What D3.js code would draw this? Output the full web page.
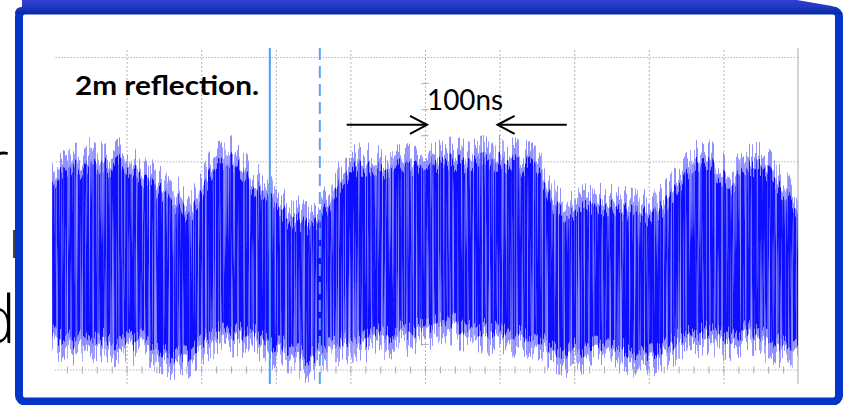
<!DOCTYPE html>
<html>
<head>
<meta charset="utf-8">
<script src="https://cdn.jsdelivr.net/npm/d3@7"></script>
<style>
  body { margin: 0; background: #fff; overflow: hidden; }
  svg { display: block; }
</style>
</head>
<body>
<div id="chart"></div>
<script>
// trace envelope read off the scope capture, one value every 10 ns
// (units: 100 per vertical division, 0 = bottom graticule line)
var sampleStep = 10;
var upperEnv = [187, 201, 196, 206, 203, 211, 204, 209, 203, 211,
  201, 206, 196, 194, 184, 182, 168, 173, 158, 165,
  177, 196, 206, 209, 213, 206, 196, 187, 184, 177,
  168, 163, 151, 155, 149, 153, 158, 168, 182, 194,
  201, 206, 203, 209, 201, 206, 203, 211, 206, 209,
  213, 211, 208, 213, 209, 211, 206, 211, 213, 206,
  213, 209, 211, 206, 209, 201, 192, 173, 163, 158,
  163, 165, 168, 171, 165, 168, 163, 165, 161, 163,
  158, 163, 168, 177, 187, 196, 206, 211, 213, 201,
  196, 187, 196, 203, 206, 206, 201, 192, 182, 173, 163];
var lowerEnv = [24, 19, 24, 14, 21, 17, 21, 19, 14, 17,
  21, 14, 19, 12, 10, 8, 2, 5, 2, 10,
  16, 21, 24, 29, 24, 26, 22, 24, 19, 14,
  12, 12, 8, 5, 0, 2, 7, 10, 12, 17,
  19, 21, 17, 22, 24, 21, 24, 27, 24, 29,
  27, 31, 34, 38, 34, 29, 31, 27, 29, 24,
  29, 26, 24, 21, 24, 19, 14, 10, 8, 5,
  10, 8, 10, 12, 8, 10, 12, 8, 5, 8,
  3, 8, 12, 14, 19, 21, 24, 24, 27, 24,
  19, 21, 24, 27, 26, 21, 19, 17, 12, 10, 8];
var timeNs = upperEnv.map((d, i) => i * sampleStep);

var gridTimes = [100, 200, 300, 400, 500, 600, 700, 800, 900];
var gridLevels = [100, 200, 300];
var cursorSolid = 292;
var cursorDashed = 359;
var spanStart = 500, spanEnd = 600;   // the 100ns marker
var arrowTails = [395, 690];
var arrowLevel = 235;
var titleText = "2m reflection.";
var spanText = "100ns";

var svgWidth = 847;
var svgHeight = 405;

var svg = d3.select("#chart")
  .append("svg")
  .attr("width", svgWidth)
  .attr("height", svgHeight);

var defs = svg.append("defs");

// --- slide remnants left of the frame
svg.append("text")
  .attr("x", 9).attr("y", 186)
  .attr("text-anchor", "end")
  .style("font-family", "'Open Sans', sans-serif")
  .style("font-weight", 300)
  .style("font-size", "64px")
  .text("r");
svg.append("text")
  .attr("x", 16).attr("y", 343)
  .attr("text-anchor", "end")
  .style("font-family", "'Open Sans', sans-serif")
  .style("font-weight", 300)
  .style("font-size", "66px")
  .text("d");
svg.append("rect")
  .attr("x", 13).attr("y", 230).attr("width", 2).attr("height", 28)
  .attr("fill", "#444");

// --- frame
svg.append("rect")
  .attr("x", 19).attr("y", 10.5)
  .attr("width", 820).attr("height", 391)
  .attr("rx", 6)
  .attr("fill", "#fff")
  .attr("stroke", "#0535c8")
  .attr("stroke-width", 8);

var barGrad = defs.append("linearGradient")
  .attr("id", "bar").attr("x1", 0).attr("y1", 0).attr("x2", 0).attr("y2", 1);
barGrad.append("stop").attr("offset", "0%").attr("stop-color", "#3242d2");
barGrad.append("stop").attr("offset", "50%").attr("stop-color", "#1f36c4");
barGrad.append("stop").attr("offset", "100%").attr("stop-color", "#0a2896");

svg.append("path")
  .attr("d", "M15,14 Q15,7 22,7 L22,0 L797,0 L832,6 L843,14 Z")
  .attr("fill", "url(#bar)");

// --- scales
var x = d3.scaleLinear().domain([0, 1000]).range([52, 798]);
var y = d3.scaleLinear().domain([0, 300]).range([370, 57]);

var plot = svg.append("g");

// vertical graticule
var gridTop = 48, gridBottom = 384;
plot.append("g")
  .attr("transform", `translate(0, ${gridBottom})`)
  .call(d3.axisBottom(x).tickValues(gridTimes).tickSize(-(gridBottom - gridTop)).tickFormat(""))
  .call(g => g.select(".domain").remove())
  .call(g => g.selectAll("line")
    .attr("stroke", "#b4b4b4")
    .attr("stroke-dasharray", "2,2"));

// horizontal graticule
plot.append("g")
  .attr("transform", `translate(${x(1000)}, 0)`)
  .call(d3.axisLeft(y).tickValues(gridLevels).tickSize(x(1000) - 55).tickFormat(""))
  .call(g => g.select(".domain").remove())
  .call(g => g.selectAll("line")
    .attr("stroke", "#b4b4b4")
    .attr("stroke-dasharray", "1.5,1.5"));

// bottom axis line with minor ticks
plot.append("line")
  .attr("x1", 55).attr("x2", x(1000))
  .attr("y1", y(0)).attr("y2", y(0))
  .attr("stroke", "#b4b4b4")
  .attr("stroke-dasharray", "1.5,1.5");
plot.append("g")
  .attr("transform", `translate(0, ${y(0) - 3.5})`)
  .call(d3.axisBottom(x).tickValues(d3.range(20, 1000, 20)).tickSizeInner(7).tickSizeOuter(0).tickFormat(""))
  .call(g => g.select(".domain").remove())
  .call(g => g.selectAll("line").attr("stroke", "#aaa"));

// centre axis minor ticks
plot.append("g")
  .attr("transform", `translate(${x(500) + 3.5}, 0)`)
  .call(d3.axisLeft(y).tickValues(d3.range(25, 300, 25)).tickSizeInner(7).tickSizeOuter(0).tickFormat(""))
  .call(g => g.select(".domain").remove())
  .call(g => g.selectAll("line").attr("stroke", "#aaa"));

// right edge
plot.append("line")
  .attr("x1", x(1000)).attr("x2", x(1000))
  .attr("y1", gridTop).attr("y2", gridBottom)
  .attr("stroke", "#b8b8b8")
  .attr("stroke-width", 1.2);

// --- trace: envelope area, roughened by a streak filter to look like a dense scope trace
function streakFilter(id, erode, scale, seed, lighten) {
  var f = defs.append("filter")
    .attr("id", id)
    .attr("filterUnits", "userSpaceOnUse")
    .attr("x", 45).attr("y", 30).attr("width", 760).attr("height", 360);
  f.append("feTurbulence")
    .attr("type", "fractalNoise")
    .attr("baseFrequency", "0.55 0.004")
    .attr("numOctaves", 2)
    .attr("seed", seed)
    .attr("result", "noise");
  f.append("feColorMatrix")
    .attr("in", "noise")
    .attr("type", "matrix")
    .attr("values", "0 0 0 0 0.5  0 3 0 0 -1  0 0 0 0 0  0 0 0 0 1")
    .attr("result", "disp");
  var src = "SourceGraphic";
  if (erode > 0) {
    f.append("feMorphology")
      .attr("in", src)
      .attr("operator", "erode")
      .attr("radius", `0 ${erode}`)
      .attr("result", "inset");
    src = "inset";
  }
  f.append("feDisplacementMap")
    .attr("in", src)
    .attr("in2", "disp")
    .attr("scale", scale)
    .attr("xChannelSelector", "R")
    .attr("yChannelSelector", "G")
    .attr("result", "shaped");
  f.append("feColorMatrix")
    .attr("in", "noise")
    .attr("type", "matrix")
    .attr("values", `0 0 0 0 1  0 0 0 0 1  0 0 0 0 1  0 0 ${lighten} 0 ${-lighten * 0.5}`)
    .attr("result", "streaks");
  f.append("feComposite")
    .attr("in", "streaks")
    .attr("in2", "shaped")
    .attr("operator", "in")
    .attr("result", "streaksIn");
  var m = f.append("feMerge");
  m.append("feMergeNode").attr("in", "shaped");
  m.append("feMergeNode").attr("in", "streaksIn");
}
streakFilter("fringe", 0, 26, 7, 0.9);
streakFilter("core", 13, 18, 7, 1.1);

var trace = timeNs.map((t, i) => ({ t: t, hi: upperEnv[i], lo: lowerEnv[i] }));

var area = d3.area()
  .x(d => x(d.t))
  .y0(d => y(d.lo))
  .y1(d => y(d.hi));

plot.append("path")
  .datum(trace)
  .attr("d", area)
  .attr("fill", "#8f8fff")
  .attr("filter", "url(#fringe)");

plot.append("path")
  .datum(trace)
  .attr("d", area)
  .attr("fill", "#1010ff")
  .attr("filter", "url(#core)");

// --- cursors
plot.append("line")
  .attr("x1", x(cursorSolid)).attr("x2", x(cursorSolid))
  .attr("y1", gridTop).attr("y2", gridBottom)
  .attr("stroke", "#4d9bff")
  .attr("stroke-width", 2);
plot.append("line")
  .attr("x1", x(cursorDashed)).attr("x2", x(cursorDashed))
  .attr("y1", gridTop).attr("y2", gridBottom)
  .attr("stroke", "#5ba2ff")
  .attr("stroke-width", 2)
  .attr("stroke-dasharray", "12,6");

// --- annotations
svg.append("text")
  .attr("x", 75).attr("y", 95)
  .attr("textLength", 184)
  .attr("lengthAdjust", "spacingAndGlyphs")
  .style("font-family", "Lato, 'Open Sans', sans-serif")
  .style("font-weight", 700)
  .style("font-size", "27px")
  .text(titleText);

svg.append("text")
  .attr("x", x(spanStart) + 2).attr("y", 110)
  .attr("textLength", 76)
  .attr("lengthAdjust", "spacingAndGlyphs")
  .style("font-family", "Lato, 'Open Sans', sans-serif")
  .style("font-size", "29px")
  .text(spanText);

var arrows = [
  { from: arrowTails[0], to: spanStart },
  { from: arrowTails[1], to: spanEnd }
];
var ay = y(arrowLevel);
arrows.forEach(function(a) {
  var dir = a.to > a.from ? 1 : -1;
  var tip = x(a.to) + dir * 2;
  svg.append("line")
    .attr("x1", x(a.from)).attr("x2", tip)
    .attr("y1", ay).attr("y2", ay)
    .attr("stroke", "#000")
    .attr("stroke-width", 2);
  svg.append("path")
    .attr("d", `M${tip - dir * 17},${ay - 9} L${tip},${ay} L${tip - dir * 17},${ay + 9}`)
    .attr("fill", "none")
    .attr("stroke", "#000")
    .attr("stroke-width", 2);
});
</script>
</body>
</html>
